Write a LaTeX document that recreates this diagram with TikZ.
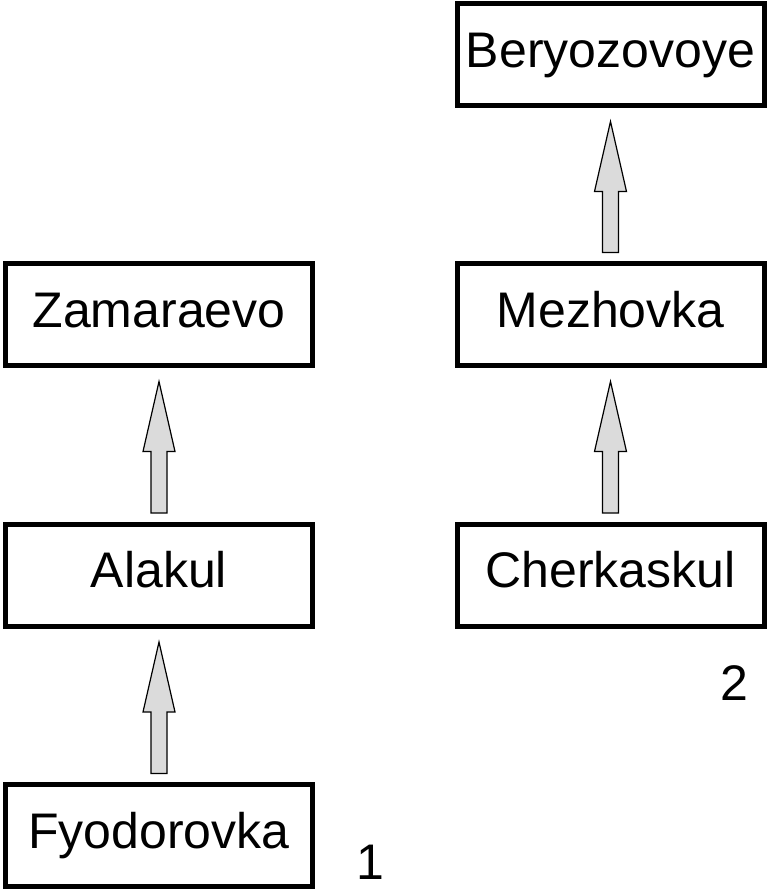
\documentclass[tikz,border=0pt]{standalone}
\usepackage{fontspec}
\setmainfont{Liberation Sans}
\usetikzlibrary{calc}
\newcommand{\uparr}[2]{%
\draw[arr] let \p1=($(#1.north)+(0,8.5)$), \p2=($(#2.south)+(0,-13.5)$) in
 (\x1-6pt,\y1)--(\x1-6pt,\y2-52.5pt)--(\x1-12pt,\y2-52.5pt)--(\x1,\y2)--(\x1+12pt,\y2-52.5pt)--(\x1+6pt,\y2-52.5pt)--(\x1+6pt,\y1)--cycle;}
\begin{document}
\begin{tikzpicture}[x=.75pt,y=.75pt,
 place/.style={draw,line width=3.75pt,minimum width=230.25pt,minimum height=76.5pt,inner sep=0pt,
 text height=28.125pt,text depth=9.375pt,font=\fontsize{37.5}{45}\selectfont},
 arr/.style={draw=black,fill=black!14,line width=.9pt,line join=miter},
 lab/.style={font=\fontsize{37.5}{45}\selectfont,inner sep=0pt,anchor=base}]
\useasboundingbox (0,0) rectangle (769,-890);
% 1
\node[place] (zam) at (159,-314.5) {Zamaraevo};
\node[place] (ala) at (159,-575) {Alakul};
\node[place] (fyo) at (159,-835.5) {Fyodorovka};
\node[lab] (one) at (370,-879) {1};
% 2
\node[place] (ber) at (610.5,-54.5) {Beryozovoye};
\node[place] (mez) at (610.5,-314.5) {Mezhovka};
\node[place] (che) at (610.5,-575) {Cherkaskul};
\node[lab] (two) at (734.5,-700) {2};
\uparr{fyo}{ala}
\uparr{ala}{zam}
\uparr{che}{mez}
\uparr{mez}{ber}
\end{tikzpicture}
\end{document}
